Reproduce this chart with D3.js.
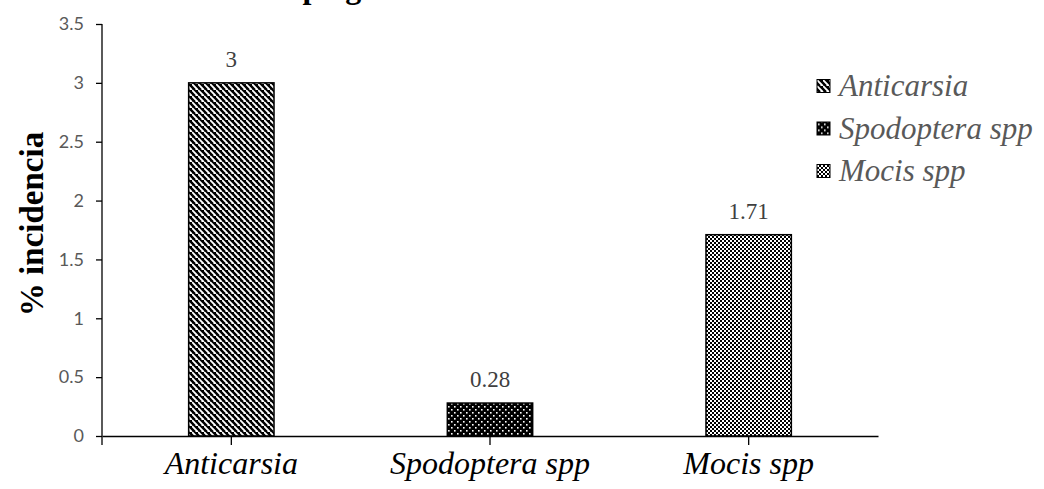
<!DOCTYPE html>
<html>
<head>
<meta charset="utf-8">
<script src="https://cdn.jsdelivr.net/npm/d3@7"></script>
<style>
  html, body { margin: 0; padding: 0; background: #fff; }
  svg { display: block; }
  .serif { font-family: "Liberation Serif", "Times New Roman", "DejaVu Serif", serif; }
  .sans { font-family: Lato, "Open Sans", sans-serif; }
</style>
</head>
<body>
<svg id="chart" width="1044" height="489"></svg>
<script>
// Pest incidence by genus
const categories = ["Anticarsia", "Spodoptera spp", "Mocis spp"];
const values = [3, 0.28, 1.71];
const valueLabels = ["3", "0.28", "1.71"];
const yTicks = [0, 0.5, 1, 1.5, 2, 2.5, 3, 3.5];
const patternIds = ["pat-diag", "pat-dots", "pat-check"];

const svg = d3.select("#chart");
const defs = svg.append("defs");

// Wide downward diagonal hatch
const pDiag = defs.append("pattern").attr("id", "pat-diag")
  .attr("patternUnits", "userSpaceOnUse").attr("width", 6).attr("height", 6);
pDiag.append("rect").attr("width", 6).attr("height", 6).attr("fill", "#fff");
pDiag.append("path")
  .attr("d", "M-3,0 L3,6 M0,-3 L9,6 M3,-3 L9,3 M-3,3 L0,6")
  .attr("stroke", "#000").attr("stroke-width", 2.4).attr("fill", "none");

// Black ground with sparse white dots
const pDots = defs.append("pattern").attr("id", "pat-dots")
  .attr("patternUnits", "userSpaceOnUse").attr("width", 6).attr("height", 6);
pDots.append("rect").attr("width", 6).attr("height", 6).attr("fill", "#000");
pDots.append("rect").attr("x", 1).attr("y", 1).attr("width", 1.6).attr("height", 1.6).attr("fill", "#fff");
pDots.append("rect").attr("x", 4).attr("y", 4).attr("width", 1.6).attr("height", 1.6).attr("fill", "#fff");

// Small checkerboard
const pCheck = defs.append("pattern").attr("id", "pat-check")
  .attr("patternUnits", "userSpaceOnUse").attr("width", 4).attr("height", 4);
pCheck.append("rect").attr("width", 4).attr("height", 4).attr("fill", "#fff");
pCheck.append("rect").attr("x", 0).attr("y", 0).attr("width", 2).attr("height", 2).attr("fill", "#000");
pCheck.append("rect").attr("x", 2).attr("y", 2).attr("width", 2).attr("height", 2).attr("fill", "#000");

const plot = { left: 102, right: 878, top: 24, bottom: 436 };

const x = d3.scaleBand().domain(categories).range([plot.left, plot.right]).padding(0);
const y = d3.scaleLinear().domain([0, 3.5]).range([plot.bottom, plot.top]);
const barW = x.bandwidth() * 0.33;

// Title (its upper part runs past the top edge of the figure)
svg.append("text")
  .attr("class", "serif")
  .attr("x", 251).attr("y", -2)
  .attr("text-anchor", "middle")
  .style("font-weight", "bold").style("font-size", "32px")
  .attr("fill", "#000")
  .text("Incidencia de plagas");

// Bars
svg.append("g").selectAll("rect")
  .data(values)
  .join("rect")
  .attr("x", (d, i) => x(categories[i]) + x.bandwidth() / 2 - barW / 2)
  .attr("y", d => y(d))
  .attr("width", barW)
  .attr("height", d => y(0) - y(d))
  .attr("fill", (d, i) => `url(#${patternIds[i]})`)
  .attr("stroke", "#000").attr("stroke-width", 1.5);

// Value labels
svg.append("g").selectAll("text")
  .data(values)
  .join("text")
  .attr("class", "serif")
  .attr("x", (d, i) => x(categories[i]) + x.bandwidth() / 2)
  .attr("y", d => y(d) - 16)
  .attr("text-anchor", "middle")
  .style("font-size", "23px").attr("fill", "#404040")
  .text((d, i) => valueLabels[i]);

// Y axis
const yAxis = d3.axisLeft(y).tickValues(yTicks).tickFormat(d => String(d))
  .tickSize(6).tickSizeOuter(0).tickPadding(12);
const gy = svg.append("g").attr("transform", `translate(${plot.left},0)`).call(yAxis);
gy.attr("font-family", null).attr("font-size", null);
gy.select(".domain").remove();
gy.selectAll(".tick line").attr("stroke", "#000").attr("stroke-width", 1.3);
gy.selectAll(".tick text")
  .attr("class", "sans")
  .style("font-size", "18px").attr("fill", "#595959");
gy.append("line")
  .attr("x1", 0).attr("x2", 0)
  .attr("y1", plot.top).attr("y2", plot.bottom + 9)
  .attr("stroke", "#000").attr("stroke-width", 1.3);

// X axis
const xAxis = d3.axisBottom(x).tickSize(9).tickSizeOuter(0).tickPadding(6);
const gx = svg.append("g").attr("transform", `translate(0,${plot.bottom})`).call(xAxis);
gx.attr("font-family", null).attr("font-size", null);
gx.select(".domain").attr("stroke", "#000").attr("stroke-width", 1.3);
gx.selectAll(".tick line").attr("stroke", "#000").attr("stroke-width", 1.3);
gx.selectAll(".tick text")
  .attr("class", "serif")
  .style("font-style", "italic")
  .style("font-size", "32px").attr("fill", "#000");

// Y axis title
svg.append("text")
  .attr("class", "serif")
  .attr("transform", "translate(43,224) rotate(-90)")
  .attr("text-anchor", "middle")
  .style("font-weight", "bold").style("font-size", "33px")
  .attr("fill", "#000")
  .text("% incidencia");

// Legend
const legend = svg.append("g").selectAll("g")
  .data(categories)
  .join("g")
  .attr("transform", (d, i) => `translate(817,${86 + i * 42.5})`);
legend.append("rect")
  .attr("x", 0).attr("y", -6.5).attr("width", 13).attr("height", 13)
  .attr("fill", (d, i) => `url(#${patternIds[i]})`)
  .attr("stroke", "#000").attr("stroke-width", 1);
legend.append("text")
  .attr("class", "serif")
  .attr("x", 22).attr("y", 10)
  .style("font-style", "italic")
  .style("font-size", "31px").attr("fill", "#595959")
  .text(d => d);
</script>
</body>
</html>
